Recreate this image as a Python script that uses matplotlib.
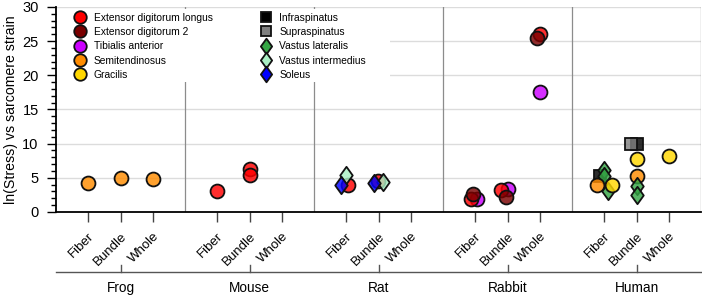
import numpy as np
import matplotlib.pyplot as plt
from matplotlib.path import Path
from matplotlib.lines import Line2D
from matplotlib.patches import Rectangle
from matplotlib.colors import to_rgba

plt.rcParams['font.family'] = ['Liberation Sans', 'DejaVu Sans']

groups = ["Frog", "Mouse", "Rat", "Rabbit", "Human"]
levels = ["Fiber", "Bundle", "Whole"]

muscles = ["Extensor digitorum longus", "Extensor digitorum 2", "Tibialis anterior",
           "Semitendinosus", "Gracilis", "Infraspinatus", "Supraspinatus",
           "Vastus lateralis", "Vastus intermedius", "Soleus"]
muscle_colors = ["#FF0000", "#7A0000", "#CC00FF", "#FF8C00", "#FFD700",
                 "#000000", "#808080", "#35A645", "#AAF0C4", "#0000FF"]

# one entry per measurement: group, level, muscle index, value, small horizontal jitter
pt_group = ["Frog", "Frog", "Frog",
            "Mouse", "Mouse", "Mouse",
            "Rat", "Rat", "Rat", "Rat", "Rat", "Rat",
            "Rabbit", "Rabbit", "Rabbit", "Rabbit", "Rabbit", "Rabbit", "Rabbit", "Rabbit", "Rabbit",
            "Human", "Human", "Human", "Human", "Human", "Human",
            "Human", "Human", "Human", "Human", "Human", "Human", "Human"]
pt_level = ["Fiber", "Bundle", "Whole",
            "Fiber", "Bundle", "Bundle",
            "Fiber", "Fiber", "Fiber", "Bundle", "Bundle", "Bundle",
            "Fiber", "Fiber", "Fiber", "Bundle", "Bundle", "Bundle", "Whole", "Whole", "Whole",
            "Fiber", "Fiber", "Fiber", "Fiber", "Fiber", "Fiber",
            "Bundle", "Bundle", "Bundle", "Bundle", "Bundle", "Bundle", "Whole"]
pt_muscle = [3, 3, 3,
             0, 0, 0,
             0, 8, 9, 0, 8, 9,
             2, 0, 1, 2, 0, 1, 2, 0, 1,
             5, 7, 7, 7, 3, 4,
             5, 6, 4, 3, 7, 7, 4]
pt_value = [4.3, 5.0, 4.9,
            3.0, 6.3, 5.4,
            3.9, 5.4, 4.0, 4.5, 4.4, 4.3,
            1.9, 1.9, 2.6, 3.4, 3.2, 2.2, 17.5, 26.0, 25.5,
            5.2, 6.1, 5.3, 3.0, 4.0, 4.0,
            10.0, 9.9, 7.7, 5.3, 3.8, 2.5, 8.2]
pt_jitter = [0, 0, 0,
             0, 0, 0,
             0.05, 0, -0.15, -0.03, 0.13, -0.15,
             0.06, -0.12, -0.07, 0.02, -0.19, -0.04, 0, 0.02, -0.1,
             -0.13, 0, 0, 0.12, -0.24, 0.23,
             0.02, -0.16, 0, 0, 0, 0, 0]

diamond = Path([(0, 1), (0.72, 0), (0, -1), (-0.72, 0), (0, 1)],
               [Path.MOVETO, Path.LINETO, Path.LINETO, Path.LINETO, Path.CLOSEPOLY])
muscle_markers = ["o", "o", "o", "o", "o", "s", "s", diamond, diamond, diamond]
marker_sizes = [10, 10, 10, 10, 10, 8, 8, 12.5, 12.5, 12.5]


def xpos(g, l):
    return groups.index(g) * 4 + levels.index(l) + 1


fig = plt.figure(figsize=(7.02, 2.95), dpi=100)
ax = fig.add_axes([0.0798, 0.2814, 0.9188, 0.6949])

ax.set_xlim(0, 20)
ax.set_ylim(0, 30)

for y in range(5, 31, 5):
    ax.axhline(y, color="#dcdcdc", lw=1, zorder=0)
for x in range(4, 21, 4):
    ax.axvline(x, color="#8c8c8c", lw=0.9, zorder=1)

# white box behind the legend hides grid and separators
ax.add_patch(Rectangle((0, 0.634), 0.518, 0.355, transform=ax.transAxes,
                       facecolor="white", edgecolor="none", zorder=1.5))

for g, l, m, v, dx in zip(pt_group, pt_level, pt_muscle, pt_value, pt_jitter):
    ax.plot(xpos(g, l) + dx, v, ls="none", marker=muscle_markers[m], ms=marker_sizes[m],
            mfc=to_rgba(muscle_colors[m], 0.82), mec="#111111", mew=1.3, zorder=3)

handles = [Line2D([], [], ls="none", marker=muscle_markers[i], ms=marker_sizes[i] * 0.9,
                  mfc=muscle_colors[i], mec="#111111", mew=1.3) for i in range(len(muscles))]
leg = ax.legend(handles, muscles, ncol=2, loc="upper left", bbox_to_anchor=(0.024, 0.99),
                frameon=False, fontsize=7.4, handlelength=1.0, handletextpad=0.8,
                columnspacing=4.7, labelspacing=0.42, borderaxespad=0, borderpad=0.35)
leg.set_zorder(5)

ax.spines["top"].set_visible(False)
ax.spines["right"].set_visible(False)
ax.spines["left"].set_linewidth(1.3)
ax.spines["bottom"].set_linewidth(1.3)

ax.set_yticks(range(0, 31, 5))
ax.set_yticks(range(0, 31), minor=True)
ax.tick_params(axis="y", which="major", length=6.5, width=1, labelsize=10.5, pad=6)
ax.tick_params(axis="y", which="minor", length=3.6, width=1)

xticks = [g * 4 + l + 1 for g in range(len(groups)) for l in range(len(levels))]
ax.set_xticks(xticks)
ax.set_xticklabels(levels * len(groups))
ax.tick_params(axis="x", length=7, width=1, color="#444444", labelsize=9.5, pad=6)
plt.setp(ax.get_xticklabels(), rotation=45, ha="right", va="top", rotation_mode="anchor")

ax.set_ylabel("ln(Stress) vs sarcomere strain", fontsize=10.2, labelpad=3)

# group bracket below the level labels
trans = ax.get_xaxis_transform()
ax.plot([0, 20], [-0.293, -0.293], transform=trans, clip_on=False, color="#555555", lw=1)
for g, name in enumerate(groups):
    c = g * 4 + 2
    ax.plot([c, c], [-0.293, -0.259], transform=trans, clip_on=False, color="#555555", lw=1)
    ax.text(c, -0.37, name, transform=trans, ha="center", va="center", fontsize=9.8)

fig.savefig("out.png", dpi=100)
